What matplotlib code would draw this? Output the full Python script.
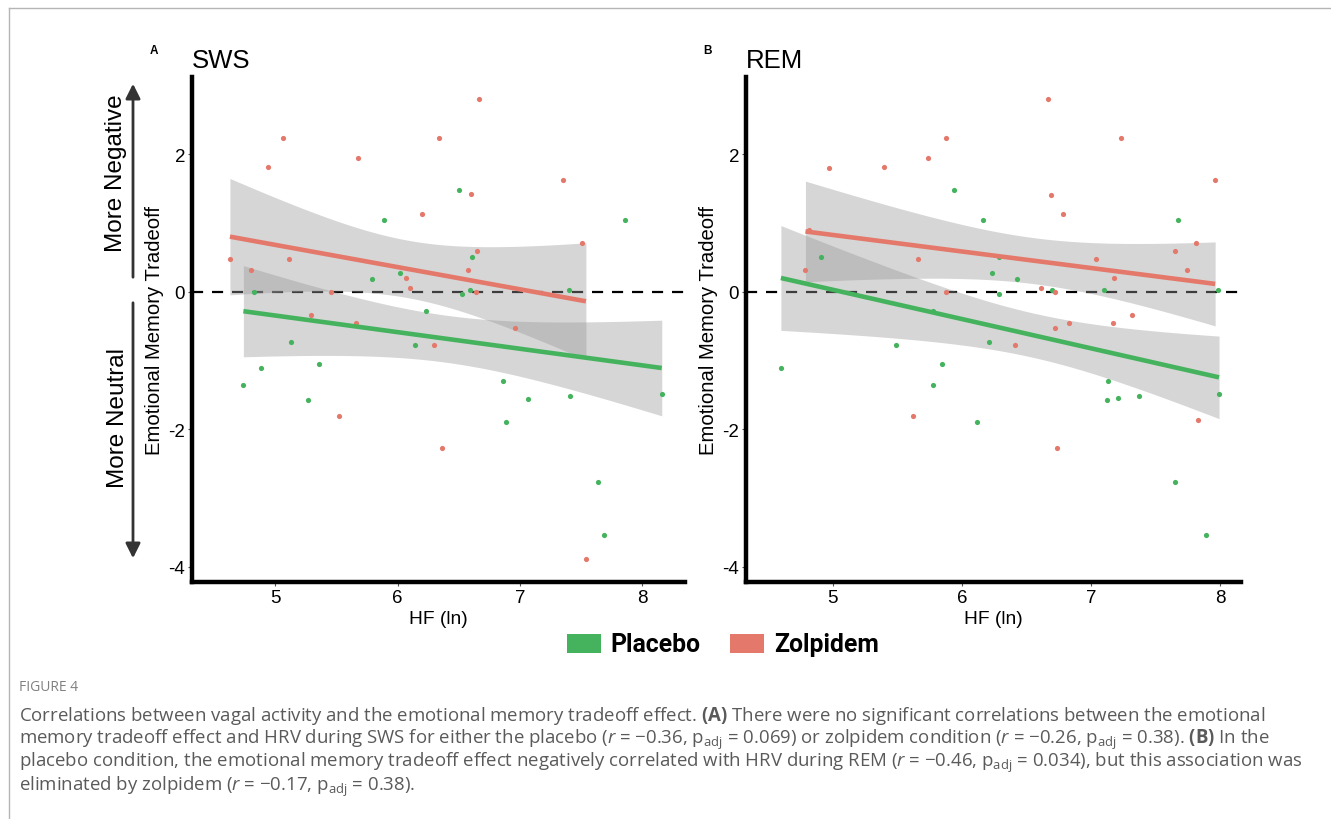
import numpy as np
import matplotlib.pyplot as plt
from matplotlib.patches import FancyArrowPatch, Rectangle
from matplotlib.lines import Line2D

plt.rcParams['font.family'] = ['Liberation Sans', 'DejaVu Sans']
plt.rcParams['axes.unicode_minus'] = False
plt.rcParams['mathtext.fontset'] = 'custom'
plt.rcParams['mathtext.rm'] = 'Open Sans'
plt.rcParams['mathtext.it'] = 'Open Sans:italic'
plt.rcParams['mathtext.bf'] = 'Open Sans:bold'

# SWS panel (A)
sws_placebo_hf = [4.74, 4.83, 4.88, 5.13, 5.27, 5.36, 5.79, 5.89, 6.02, 6.14, 6.23, 6.50,
                  6.53, 6.59, 6.61, 6.86, 6.89, 7.07, 7.40, 7.41, 7.64, 7.69, 7.86, 8.16]
sws_placebo_tradeoff = [-1.36, 0.00, -1.11, -0.73, -1.58, -1.05, 0.19, 1.04, 0.27, -0.77, -0.28, 1.48,
                        -0.03, 0.02, 0.51, -1.30, -1.90, -1.56, 0.02, -1.52, -2.77, -3.53, 1.04, -1.49]
sws_zolpidem_hf = [4.63, 4.80, 4.94, 5.06, 5.11, 5.29, 5.46, 5.52, 5.66, 5.68, 6.07, 6.10, 6.20,
                   6.30, 6.34, 6.36, 6.58, 6.60, 6.64, 6.65, 6.67, 6.96, 7.35, 7.51, 7.54]
sws_zolpidem_tradeoff = [0.47, 0.32, 1.81, 2.24, 0.47, -0.34, 0.00, -1.81, -0.45, 1.94, 0.20, 0.06, 1.13,
                         -0.77, 2.24, -2.27, 0.32, 1.42, -0.01, 0.59, 2.80, -0.53, 1.63, 0.71, -3.89]

# REM panel (B)
rem_placebo_hf = [4.60, 4.91, 5.49, 5.78, 5.78, 5.85, 5.94, 6.12, 6.16, 6.21, 6.23, 6.29, 6.29,
                  6.43, 6.70, 7.10, 7.12, 7.13, 7.21, 7.37, 7.65, 7.67, 7.89, 7.98, 7.99]
rem_placebo_tradeoff = [-1.11, 0.51, -0.77, -1.36, -0.28, -1.05, 1.48, -1.90, 1.04, -0.73, 0.27, 0.51, -0.03,
                        0.19, 0.02, 0.02, -1.57, -1.30, -1.55, -1.52, -2.77, 1.04, -3.53, 0.02, -1.49]
rem_zolpidem_hf = [4.79, 4.82, 4.97, 5.40, 5.62, 5.66, 5.74, 5.88, 5.88, 6.41, 6.61, 6.67, 6.69, 6.72,
                   6.72, 6.74, 6.78, 6.83, 7.04, 7.17, 7.18, 7.23, 7.32, 7.65, 7.74, 7.81, 7.83, 7.96]
rem_zolpidem_tradeoff = [0.32, 0.89, 1.80, 1.81, -1.81, 0.47, 1.94, 2.24, 0.00, -0.77, 0.06, 2.80, 1.41, -0.01,
                         -0.53, -2.27, 1.13, -0.45, 0.47, -0.45, 0.20, 2.24, -0.34, 0.59, 0.32, 0.71, -1.86, 1.63]

# critical value for the shaded band around each fit
BAND_CRIT = 1.38

GREEN = '#45B35E'
RED = '#E4796B'


def fit_band(x, y):
    x = np.asarray(x)
    y = np.asarray(y)
    n = len(x)
    slope, intercept = np.polyfit(x, y, 1)
    xs = np.linspace(x.min(), x.max(), 100)
    yhat = slope * xs + intercept
    resid = y - (slope * x + intercept)
    s = np.sqrt(np.sum(resid ** 2) / (n - 2))
    se = s * np.sqrt(1 / n + (xs - x.mean()) ** 2 / np.sum((x - x.mean()) ** 2))
    return xs, yhat, yhat - BAND_CRIT * se, yhat + BAND_CRIT * se


def panel(ax, groups, title, xlim):
    ax.axhline(0, color='black', lw=1.6, dashes=(5, 4), zorder=1)
    for hf, val, col in groups:
        ax.scatter(hf, val, s=14, color=col, linewidths=0, zorder=3)
    for hf, val, col in groups:
        xs, yhat, lo, hi = fit_band(hf, val)
        ax.fill_between(xs, lo, hi, color='#999999', alpha=0.4, lw=0, zorder=2)
        ax.plot(xs, yhat, color=col, lw=3.3, solid_capstyle='butt', zorder=4)
    ax.set_xlim(*xlim)
    ax.set_ylim(-4.22, 3.12)
    ax.set_xticks([5, 6, 7, 8])
    ax.set_yticks([-4, -2, 0, 2])
    for sp in ['top', 'right']:
        ax.spines[sp].set_visible(False)
    for sp in ['left', 'bottom']:
        ax.spines[sp].set_linewidth(3.2)
    ax.tick_params(length=3, width=0.8, color='#555555', labelsize=13.5, pad=2)
    ax.set_xlabel('HF (ln)', fontsize=13.8, labelpad=3)
    ax.set_ylabel('Emotional Memory Tradeoff', fontsize=14.6, labelpad=3)
    ax.set_title(title, fontsize=18.5, loc='left', pad=7)


fig = plt.figure(figsize=(13.31, 8.2), dpi=100)

def fx(px):
    return px / 1331

def fy(py):
    return 1 - py / 820

ax1 = fig.add_axes([fx(192), fy(583), fx(685) - fx(192), fy(78) - fy(583)])
ax2 = fig.add_axes([fx(746), fy(583), fx(1241) - fx(746), fy(78) - fy(583)])

panel(ax1, [(sws_placebo_hf, sws_placebo_tradeoff, GREEN),
            (sws_zolpidem_hf, sws_zolpidem_tradeoff, RED)], 'SWS', (4.32, 8.35))
panel(ax2, [(rem_placebo_hf, rem_placebo_tradeoff, GREEN),
            (rem_zolpidem_hf, rem_zolpidem_tradeoff, RED)], 'REM', (4.33, 8.16))

fig.text(fx(154), fy(51), 'A', fontsize=8.5, fontweight='bold', ha='center', va='center')
fig.text(fx(708), fy(51), 'B', fontsize=8.5, fontweight='bold', ha='center', va='center')

# direction arrows on the left
fig.add_artist(FancyArrowPatch((fx(133), fy(281)), (fx(133), fy(82)), transform=fig.transFigure,
                               arrowstyle='-|>', mutation_scale=22, lw=2, color='#333333'))
fig.add_artist(FancyArrowPatch((fx(133), fy(301)), (fx(133), fy(562)), transform=fig.transFigure,
                               arrowstyle='-|>', mutation_scale=22, lw=2, color='#333333'))
fig.text(fx(116), fy(173), 'More Negative', rotation=90, fontsize=17.5, ha='center', va='center')
fig.text(fx(118), fy(418), 'More Neutral', rotation=90, fontsize=17.5, ha='center', va='center')

# legend
fig.add_artist(Rectangle((fx(567), fy(654)), fx(34), 19 / 820, transform=fig.transFigure,
                         facecolor=GREEN, edgecolor='none'))
fig.add_artist(Rectangle((fx(730), fy(654)), fx(34), 19 / 820, transform=fig.transFigure,
                         facecolor=RED, edgecolor='none'))
fig.text(fx(610), fy(645), 'Placebo', family='Roboto', fontweight='bold', fontsize=17.8,
         ha='left', va='center')
fig.text(fx(774), fy(645), 'Zolpidem', family='Roboto', fontweight='bold', fontsize=17.8,
         ha='left', va='center')

# page frame
fig.add_artist(Line2D([fx(9), 1], [fy(9), fy(9)], transform=fig.transFigure, color='#b5b5b5', lw=1))
fig.add_artist(Line2D([fx(9), fx(9)], [fy(9), 0], transform=fig.transFigure, color='#b5b5b5', lw=1))

# caption
cap_font = ['Open Sans', 'DejaVu Sans']
fig.text(fx(19), fy(688), 'FIGURE 4', family=cap_font, fontsize=10, color='#808080', va='center')
caption = [
    r'Correlations between vagal activity and the emotional memory tradeoff effect. $\mathbf{(A)}$ There were no significant correlations between the emotional',
    r'memory tradeoff effect and HRV during SWS for either the placebo ($\mathit{r}$ = −0.36, p$_{\mathrm{adj}}$ = 0.069) or zolpidem condition ($\mathit{r}$ = −0.26, p$_{\mathrm{adj}}$ = 0.38). $\mathbf{(B)}$ In the',
    r'placebo condition, the emotional memory tradeoff effect negatively correlated with HRV during REM ($\mathit{r}$ = −0.46, p$_{\mathrm{adj}}$ = 0.034), but this association was',
    r'eliminated by zolpidem ($\mathit{r}$ = −0.17, p$_{\mathrm{adj}}$ = 0.38).',
]
for i, line in enumerate(caption):
    fig.text(fx(19), fy(716 + 23.7 * i), line, family=cap_font, fontsize=13.4, color='#5a5a5a',
             va='center')

fig.savefig('out.png', dpi=100)
